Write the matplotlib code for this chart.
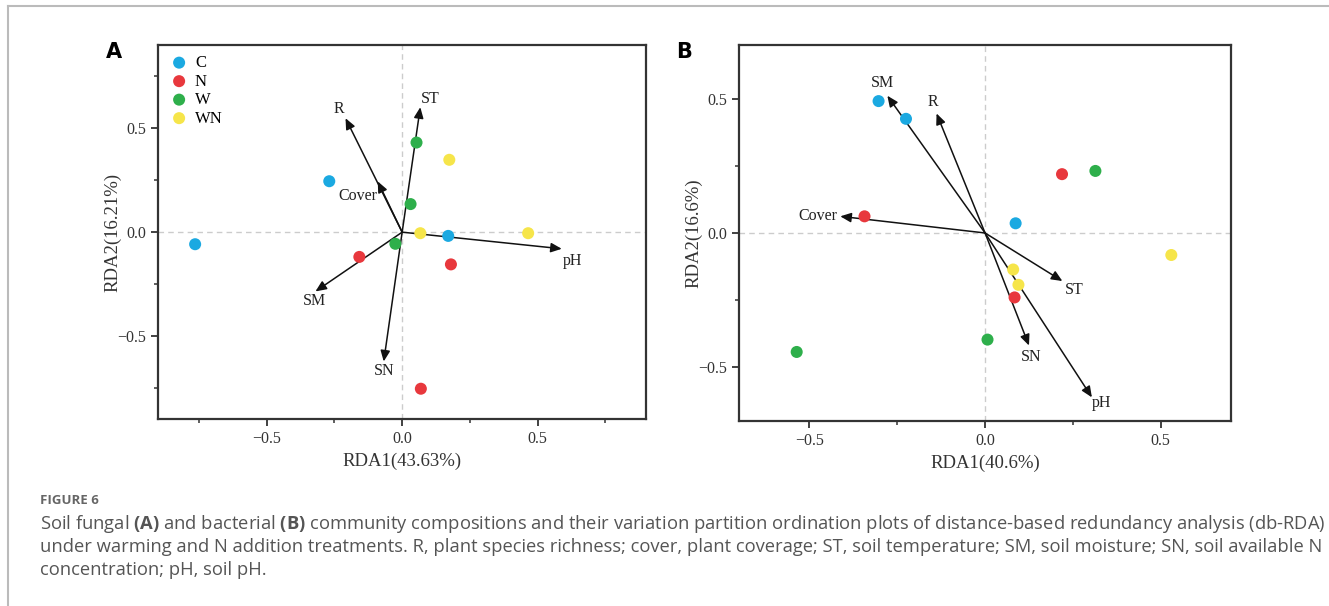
import matplotlib
matplotlib.use("Agg")
import matplotlib.pyplot as plt
import numpy as np

plt.rcParams['font.family'] = ['Liberation Serif', 'DejaVu Serif']
plt.rcParams['mathtext.fontset'] = 'custom'
plt.rcParams['mathtext.rm'] = 'Open Sans'
plt.rcParams['mathtext.bf'] = 'Open Sans:bold'

groups = ['C', 'N', 'W', 'WN']
colors = ['#1ba9e1', '#e8383d', '#2eaf4b', '#f6e54a']

# panel A (fungi) sample scores
a_x = {'C': [-0.764, -0.269, 0.170],
       'N': [-0.158, 0.180, 0.069],
       'W': [0.053, 0.031, -0.025],
       'WN': [0.174, 0.067, 0.465]}
a_y = {'C': [-0.058, 0.245, -0.018],
       'N': [-0.119, -0.155, -0.753],
       'W': [0.431, 0.135, -0.056],
       'WN': [0.348, -0.005, -0.005]}
# panel A environmental vectors
a_env = ['R', 'ST', 'Cover', 'pH', 'SM', 'SN']
a_env_x = [-0.209, 0.067, -0.090, 0.589, -0.320, -0.068]
a_env_y = [0.548, 0.601, 0.244, -0.080, -0.285, -0.622]
a_lab_x = [-0.232, 0.104, -0.162, 0.628, -0.325, -0.065]
a_lab_y = [0.593, 0.641, 0.176, -0.138, -0.333, -0.670]

# panel B (bacteria) sample scores
b_x = {'C': [-0.303, -0.225, 0.087],
       'N': [-0.343, 0.219, 0.084],
       'W': [0.314, 0.007, -0.536],
       'WN': [0.530, 0.080, 0.095]}
b_y = {'C': [0.491, 0.425, 0.036],
       'N': [0.062, 0.219, -0.240],
       'W': [0.231, -0.397, -0.443],
       'WN': [-0.082, -0.136, -0.193]}
b_env = ['SM', 'R', 'Cover', 'ST', 'SN', 'pH']
b_env_x = [-0.278, -0.138, -0.412, 0.220, 0.125, 0.304]
b_env_y = [0.511, 0.445, 0.062, -0.179, -0.419, -0.612]
b_lab_x = [-0.291, -0.147, -0.477, 0.253, 0.131, 0.332]
b_lab_y = [0.557, 0.489, 0.062, -0.211, -0.463, -0.634]

fig = plt.figure(figsize=(13.29, 6.06), dpi=100)
axA = fig.add_axes([0.1191, 0.3081, 0.3670, 0.6176])
axB = fig.add_axes([0.5561, 0.3053, 0.3702, 0.6205])


def draw(ax, px, py, env, ex, ey, lx, ly, lim, xlab, ylab, legend):
    ax.axhline(0, color='#cccccc', ls=(0, (4, 3)), lw=1, zorder=0)
    ax.axvline(0, color='#cccccc', ls=(0, (4, 3)), lw=1, zorder=0)
    for name, e_x, e_y in zip(env, ex, ey):
        ax.annotate('', xy=(e_x, e_y), xytext=(0, 0),
                    arrowprops=dict(arrowstyle='-|>,head_length=0.5,head_width=0.22',
                                    color='#111111', lw=1.1,
                                    mutation_scale=13, shrinkA=0, shrinkB=0),
                    zorder=2)
    for name, x, y in zip(env, lx, ly):
        ax.text(x, y, name, ha='center', va='center', fontsize=11.5, color='#222222')
    for g, c in zip(groups, colors):
        ax.scatter(px[g], py[g], s=75, color=c, edgecolors='none', label=g, zorder=3)
    minor = [t for t in np.arange(-0.75, 0.8, 0.25) if abs(t) < lim and abs(t) % 0.5 > 0.01]
    ax.set_xticks([-0.5, 0, 0.5])
    ax.set_yticks([-0.5, 0, 0.5])
    ax.set_xticks(minor, minor=True)
    ax.set_yticks(minor, minor=True)
    ax.set_xticklabels(['\u22120.5', '0.0', '0.5'])
    ax.set_yticklabels(['\u22120.5', '0.0', '0.5'])
    ax.set_xlim(-lim, lim)
    ax.set_ylim(-lim, lim)
    ax.tick_params(which='major', direction='out', length=5, width=1.3,
                   labelsize=11.5, colors='#333333', labelcolor='#333333')
    ax.tick_params(which='minor', direction='out', length=3, width=1.1, colors='#333333')
    for s in ax.spines.values():
        s.set_linewidth(1.6)
        s.set_color('#333333')
    ax.set_xlabel(xlab, fontsize=13.5, color='#333333', labelpad=4)
    ax.set_ylabel(ylab, fontsize=13.5, color='#333333', labelpad=-3)
    if legend:
        ax.legend(loc='upper left', frameon=False, fontsize=12, handletextpad=0.3,
                  labelspacing=0.15, borderaxespad=0.2, scatterpoints=1,
                  handlelength=1.3, bbox_to_anchor=(0.0, 1.0))


draw(axA, a_x, a_y, a_env, a_env_x, a_env_y, a_lab_x, a_lab_y, 0.9,
     'RDA1(43.63%)', 'RDA2(16.21%)', True)
draw(axB, b_x, b_y, b_env, b_env_x, b_env_y, b_lab_x, b_lab_y, 0.7,
     'RDA1(40.6%)', 'RDA2(16.6%)', False)

fig.text(114 / 1329, 1 - 52 / 606, 'A', fontsize=15, fontweight='bold',
         family='DejaVu Sans', ha='center', va='center')
fig.text(684 / 1329, 1 - 52 / 606, 'B', fontsize=15, fontweight='bold',
         family='DejaVu Sans', ha='center', va='center')

# frame lines of the figure page
fig.add_artist(plt.Line2D([8 / 1329, 1], [1 - 6 / 606, 1 - 6 / 606], color='#bbbbbb', lw=1.5))
fig.add_artist(plt.Line2D([8 / 1329, 8 / 1329], [0, 1 - 6 / 606], color='#bbbbbb', lw=1.5))

fig.text(40 / 1329, 1 - 500 / 606, 'FIGURE 6', fontsize=9.5, fontweight='bold',
         family='Open Sans', color='#666666', va='center')
cap = ['Soil fungal $\\mathbf{(A)}$ and bacterial $\\mathbf{(B)}$ community compositions and their variation partition ordination plots of distance-based redundancy analysis (db-RDA)',
       'under warming and N addition treatments. R, plant species richness; cover, plant coverage; ST, soil temperature; SM, soil moisture; SN, soil available N',
       'concentration; pH, soil pH.']
for i, line in enumerate(cap):
    fig.text(40 / 1329, 1 - (524 + 23 * i) / 606, line, fontsize=13.2,
             family='Open Sans', color='#555555', va='center')

fig.savefig('out.png', dpi=100)
